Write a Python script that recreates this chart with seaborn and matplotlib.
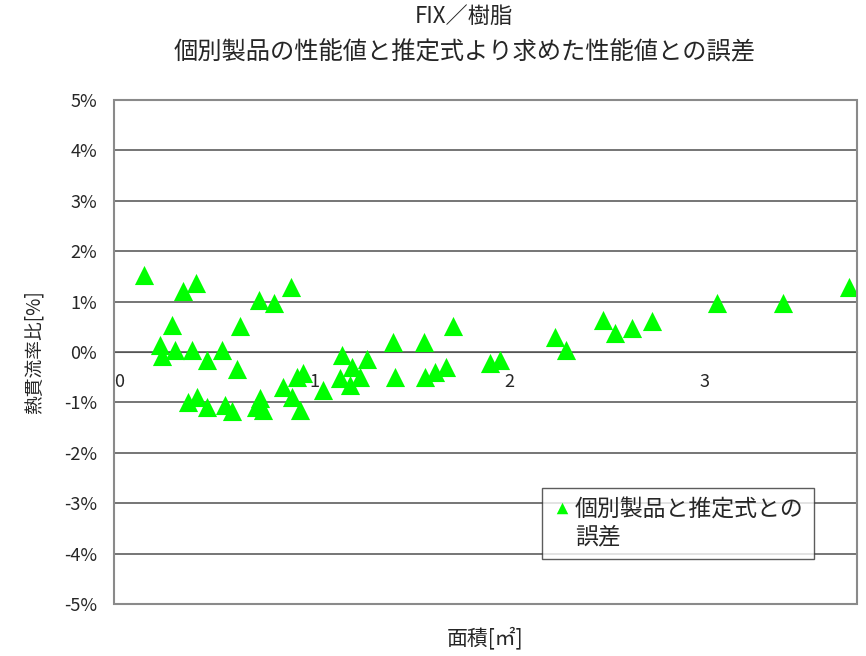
import numpy as np
import pandas as pd
import matplotlib
matplotlib.use('Agg')
import matplotlib.pyplot as plt
from matplotlib.patches import Rectangle
from matplotlib.ticker import FuncFormatter
import seaborn as sns

# area [m2] vs heat transmittance ratio error [%]
area = [0.155, 0.355, 0.42, 0.745, 0.82, 0.906, 0.296, 0.646, 0.236, 0.245,
        0.313, 0.398, 0.475, 0.552, 0.63, 0.381, 0.424, 0.475, 0.569, 0.603,
        0.73, 0.749, 0.766, 0.868, 0.911, 0.937, 0.954, 0.97, 1.07, 1.168,
        1.16, 1.22, 1.21, 1.26, 1.30, 1.44, 1.43, 1.59, 1.595, 1.646,
        1.70, 1.74, 1.93, 1.98, 2.26, 2.32, 2.51, 2.57, 2.655, 2.757,
        3.09, 3.43, 3.77]
err = [1.53, 1.20, 1.36, 1.03, 0.97, 1.28, 0.53, 0.51, 0.14, -0.07,
       0.03, 0.03, -0.15, 0.03, -0.33, -0.99, -0.89, -1.09, -1.05, -1.18,
       -1.09, -0.92, -1.15, -0.69, -0.89, -0.49, -1.15, -0.42, -0.75, -0.06,
       -0.52, -0.29, -0.65, -0.49, -0.13, -0.49, 0.20, 0.20, -0.49, -0.39,
       -0.29, 0.52, -0.22, -0.16, 0.30, 0.04, 0.63, 0.37, 0.47, 0.62,
       0.98, 0.98, 1.28]
xticks = [0, 1, 2, 3]
yticks = list(range(-5, 6))
series_label = '個別製品と推定式との\n誤差'

df = pd.DataFrame({'area': area, 'err': err})

sns.set_style('white')
plt.rcParams['font.family'] = ['Noto Sans CJK JP', 'DejaVu Sans']

fig = plt.figure(figsize=(8.66, 6.56), dpi=100)
ax = fig.add_axes([0.1316, 0.0793, 0.858, 0.7683])

sns.scatterplot(data=df, x='area', y='err', marker='^', color='#00FF00',
                s=190, linewidth=0, label=series_label, ax=ax, zorder=3)

ax.set_xlim(0, 3.81)
ax.set_ylim(-5, 5)
ax.set_xticks(xticks)
ax.set_yticks(yticks)
ax.yaxis.set_major_formatter(FuncFormatter(lambda v, p: '%d%%' % v))

# horizontal gridlines
for v in yticks:
    ax.axhline(v, color='#5e5e5e', lw=1.2, zorder=1)

# x axis crosses at 0
for s in ['top', 'right', 'left']:
    ax.spines[s].set_visible(False)
ax.spines['bottom'].set_position(('data', 0))
ax.spines['bottom'].set_color('#555555')
ax.add_patch(Rectangle((0, 0), 1, 1, transform=ax.transAxes, fill=False,
                       edgecolor='#8a8a8a', lw=1.5, clip_on=False, zorder=4))

ax.tick_params(axis='x', direction='in', length=5, color='#555555',
               labelsize=13, pad=15)
ax.tick_params(axis='y', length=0, labelsize=13, pad=12)
for t in ax.get_xticklabels():
    t.set_horizontalalignment('left')

ax.set_xlabel('面積[㎡]', fontsize=15)
ax.xaxis.set_label_coords(0.5, -0.045)
ax.set_ylabel('熱貫流率比[%]', fontsize=13.5, labelpad=14)

fig.text(0.536, 0.975, 'FIX／樹脂', ha='center', va='center', fontsize=16)
fig.text(0.536, 0.920, '個別製品の性能値と推定式より求めた性能値との誤差',
         ha='center', va='center', fontsize=17.5)

leg = ax.legend(loc='upper left', bbox_to_anchor=(0.56, 0.252), fontsize=16.5,
                frameon=True, fancybox=False, handletextpad=0.1,
                handlelength=0.9, borderpad=0.45, markerscale=0.6,
                scatteryoffsets=[1.5])
leg.get_frame().set_edgecolor('#333333')
leg.get_frame().set_linewidth(1.0)

fig.savefig('out.png', dpi=100)
